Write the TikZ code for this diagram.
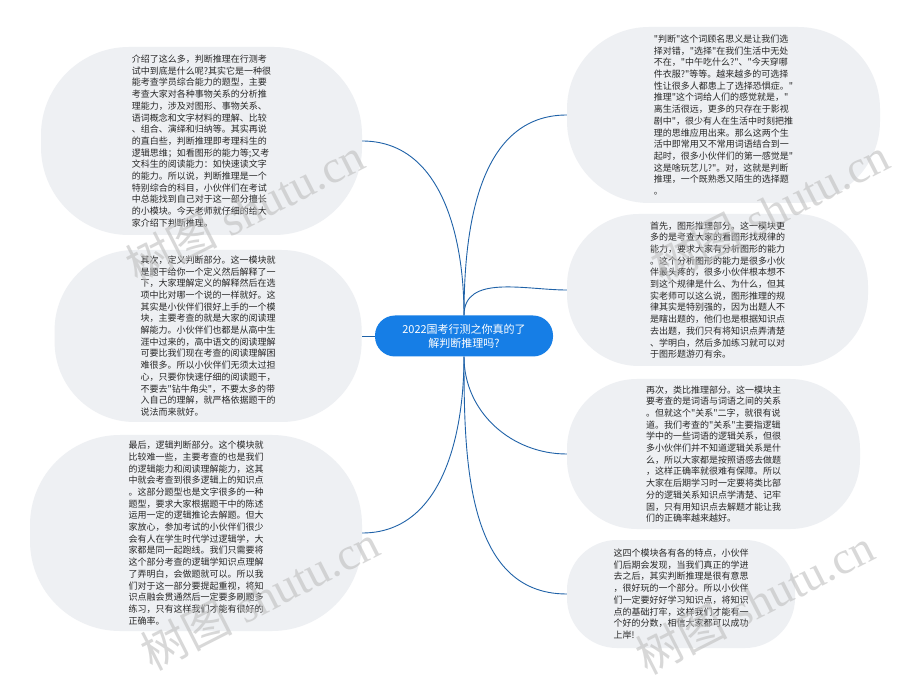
\documentclass[tikz,border=0pt]{standalone}
\usepackage{fontspec}
\setmainfont{Noto Sans CJK SC}[Ligatures=TeXOff]
\newfontfamily\wmfont{Liberation Serif}
\usetikzlibrary{positioning}

\definecolor{topicblue}{RGB}{22,126,230}
\definecolor{linkblue}{RGB}{31,98,168}
\definecolor{leafgray}{RGB}{238,240,243}
\definecolor{leaftext}{RGB}{40,40,40}
\definecolor{wmgray}{RGB}{190,190,190}

\begin{document}
\begin{tikzpicture}[
        x=1pt, y=1pt,
        topic/.style={fill=topicblue, rounded corners=20pt, minimum width=178pt, minimum height=41pt, inner sep=0pt, text=white, align=center, font=\fontsize{11}{14}\selectfont},
        leaf/.style={fill=leafgray, inner sep=0pt, text=leaftext, align=left, font=\fontsize{9}{11.7}\selectfont},
        link/.style={draw=linkblue, line width=0.9pt},
        wmark/.style={text=wmgray, text opacity=0.6, font=\wmfont\fontsize{46}{46}\selectfont}
    ]
    \useasboundingbox (0,0) rectangle (904,675);
    \fill[white] (0,0) rectangle (904,675);

    % Central topic
    \node[topic] (hub) at (464,339) {2022国考行测之你真的了\\解判断推理吗?};

    % Left branches
    \node[leaf, rounded corners=88pt, minimum width=321pt, minimum height=188pt] (l1) at (201.5,534) {介绍了这么多，判断推理在行测考\\试中到底是什么呢?其实它是一种很\\能考查学员综合能力的题型，主要\\考查大家对各种事物关系的分析推\\理能力，涉及对图形、事物关系、\\语词概念和文字材料的理解、比较\\、组合、演绎和归纳等。其实再说\\的直白些，判断推理即考理科生的\\逻辑思维；如看图形的能力等;又考\\文科生的阅读能力：如快速读文字\\的能力。所以说，判断推理是一个\\特别综合的科目，小伙伴们在考试\\中总能找到自己对于这一部分擅长\\的小模块。今天老师就仔细的给大\\家介绍下判断推理。};
    \node[leaf, rounded corners=80pt, minimum width=307pt, minimum height=172pt, left=13pt of hub] (l2) {其次，定义判断部分。这一模块就\\是题干给你一个定义然后解释了一\\下，大家理解定义的解释然后在选\\项中比对哪一个说的一样就好。这\\其实是小伙伴们很好上手的一个模\\块，主要考查的就是大家的阅读理\\解能力。小伙伴们也都是从高中生\\涯中过来的，高中语文的阅读理解\\可要比我们现在考查的阅读理解困\\难很多。所以小伙伴们无须太过担\\心，只要你快速仔细的阅读题干，\\不要去"钻牛角尖"，不要太多的带\\入自己的理解，就严格依据题干的\\说法而来就好。};
    \node[leaf, rounded corners=90pt, minimum width=332pt, minimum height=196pt] (l3) at (196,142) {最后，逻辑判断部分。这个模块就\\比较难一些，主要考查的也是我们\\的逻辑能力和阅读理解能力，这其\\中就会考查到很多逻辑上的知识点\\。这部分题型也是文字很多的一种\\题型，要求大家根据题干中的陈述\\运用一定的逻辑推论去解题。但大\\家放心，参加考试的小伙伴们很少\\会有人在学生时代学过逻辑学，大\\家都是同一起跑线。我们只需要将\\这个部分考查的逻辑学知识点理解\\了弄明白，会做题就可以。所以我\\们对于这一部分要提起重视，将知\\识点融会贯通然后一定要多刷题多\\练习，只有这样我们才能有很好的\\正确率。};

    % Right branches
    \node[leaf, rounded corners=82pt, minimum width=313pt, minimum height=176pt] (r1) at (723.5,560) {"判断"这个词顾名思义是让我们选\\择对错，"选择"在我们生活中无处\\不在，"中午吃什么?"、"今天穿哪\\件衣服?"等等。越来越多的可选择\\性让很多人都患上了选择恐惧症。"\\推理"这个词给人们的感觉就是，"\\离生活很远，更多的只存在于影视\\剧中"，很少有人在生活中时刻把推\\理的思维应用出来。那么这两个生\\活中即常用又不常用词语结合到一\\起时，很多小伙伴们的第一感觉是"\\这是啥玩艺儿?"。对，这就是判断\\推理，一个既熟悉又陌生的选择题\\。};
    \node[leaf, rounded corners=72pt, minimum width=301pt, minimum height=152pt] (r2) at (717.5,385) {首先，图形推理部分。这一模块更\\多的是考查大家的看图形找规律的\\能力，要求大家有分析图形的能力\\。这个分析图形的能力是很多小伙\\伴最头疼的，很多小伙伴根本想不\\到这个规律是什么、为什么，但其\\实老师可以这么说，图形推理的规\\律其实是特别强的，因为出题人不\\是瞎出题的，他们也是根据知识点\\去出题，我们只有将知识点弄清楚\\、学明白，然后多加练习就可以对\\于图形题游刃有余。};
    \node[leaf, rounded corners=70pt, minimum width=293pt, minimum height=150pt] (r3) at (713.5,221) {再次，类比推理部分。这一模块主\\要考查的是词语与词语之间的关系\\。但就这个"关系"二字，就很有说\\道。我们考查的"关系"主要指逻辑\\学中的一些词语的逻辑关系，但很\\多小伙伴们并不知道逻辑关系是什\\么，所以大家都是按照语感去做题\\，这样正确率就很难有保障。所以\\大家在后期学习时一定要将类比部\\分的逻辑关系知识点学清楚、记牢\\固，只有用知识点去解题才能让我\\们的正确率越来越好。};
    \node[leaf, rounded corners=50pt, minimum width=228pt, minimum height=108pt] (r4) at (681,81) {这四个模块各有各的特点，小伙伴\\们后期会发现，当我们真正的学进\\去之后，其实判断推理是很有意思\\，很好玩的一个部分。所以小伙伴\\们一定要好好学习知识点，将知识\\点的基础打牢，这样我们才能有一\\个好的分数，相信大家都可以成功\\上岸!};

    % Links
    \draw[link] (hub.north) to[out=90, in=0] (l1.east);
    \draw[link] (hub.west) -- (l2.east);
    \draw[link] (hub.south) to[out=-90, in=0] (l3.east);
    \draw[link] (hub.north) to[out=90, in=180] (r1.west);
    \draw[link] (hub.north) to[out=90, in=180] (r2.west);
    \draw[link] (hub.south) to[out=-90, in=180] (r3.west);
    \draw[link] (hub.south) to[out=-90, in=180] (r4.west);

    % Watermarks
    \node[wmark, rotate=27] (wm1) at (245,465) {{\rmfamily 树图} shutu.cn};
    \node[wmark, rotate=27] (wm2) at (770,465) {{\rmfamily 树图} shutu.cn};
    \node[wmark, rotate=27] (wm3) at (260,78) {{\rmfamily 树图} shutu.cn};
    \node[wmark, rotate=27] (wm4) at (755,74) {{\rmfamily 树图} shutu.cn};
\end{tikzpicture}
\end{document}
